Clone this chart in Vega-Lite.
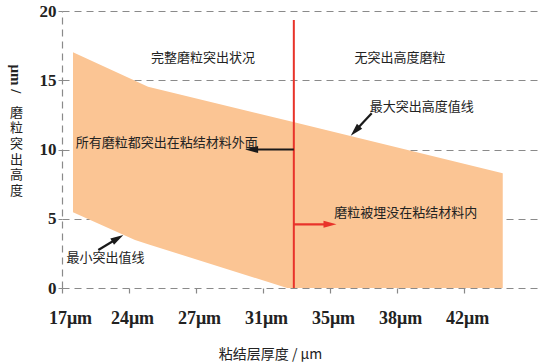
{
  "$schema": "https://vega.github.io/schema/vega-lite/v6.json",
  "width": 478,
  "height": 277,
  "autosize": {"type": "none"},
  "padding": {"left": 62, "top": 11, "right": 14, "bottom": 75},
  "background": "white",
  "config": {"view": {"stroke": null}, "font": "Noto Sans CJK SC"},
  "datasets": {
    "band": [
      {"pos": 0.164, "upper": 17.02, "lower": 5.47},
      {"pos": 1.09, "upper": 14.97, "lower": 3.47},
      {"pos": 1.284, "upper": 14.53, "lower": 3.16},
      {"pos": 3.36, "upper": 12.09, "lower": 0},
      {"pos": 6.578, "upper": 8.28, "lower": 0}
    ],
    "divider": [{"pos": 3.46, "y": 0, "y2": 19.35}],
    "arrows": [
      {"kind": "black", "x": 3.46, "y": 10.0, "x2": 2.83, "y2": 10.0},
      {"kind": "red", "x": 3.46, "y": 4.6, "x2": 4.0, "y2": 4.6},
      {"kind": "black", "x": 4.622, "y": 12.61, "x2": 4.375, "y2": 11.34},
      {"kind": "black", "x": 0.542, "y": 2.74, "x2": 0.832, "y2": 3.59}
    ],
    "notes": [
      {"x": 2.104, "y": 16.63, "label": "完整磨粒突出状况"},
      {"x": 5.045, "y": 16.63, "label": "无突出高度磨粒"},
      {"x": 5.369, "y": 13.09, "label": "最大突出高度值线"},
      {"x": 1.563, "y": 10.45, "label": "所有磨粒都突出在粘结材料外面"},
      {"x": 5.13, "y": 5.39, "label": "磨粒被埋没在粘结材料内"},
      {"x": 0.65, "y": 2.19, "label": "最小突出值线"}
    ],
    "unit": [{"x": -0.687, "y": 15.1, "label": "μm /"}]
  },
  "layer": [
    {
      "data": {"name": "band"},
      "mark": {"type": "area", "color": "#FBC594", "opacity": 1},
      "encoding": {
        "x": {
          "field": "pos", "type": "quantitative",
          "scale": {"domain": [0, 7.134], "nice": false, "zero": false},
          "axis": {
            "values": [0, 1, 2, 3, 4, 5, 6],
            "labelExpr": "['17μm','24μm','27μm','31μm','35μm','38μm','42μm'][datum.value]",
            "grid": false, "domain": false,
            "tickSize": 5, "tickColor": "#888888", "tickWidth": 1.2,
            "labelFont": "Liberation Serif", "labelFontWeight": "bold", "labelFontSize": 18,
            "labelColor": "#222222", "labelPadding": 16,
            "labelFlush": false, "labelOverlap": false, "labelBound": false,
            "labelOffset": {"condition": {"test": "datum.value === 0", "value": 8}, "value": 3},
            "title": "粘结层厚度 / μm",
            "titleFont": "Noto Sans CJK SC", "titleFontSize": 14, "titleFontWeight": "normal",
            "titleColor": "#222222", "titleX": 208, "titleY": 66,
            "titleBaseline": "middle", "titleAlign": "center"
          }
        },
        "y": {
          "field": "upper", "type": "quantitative",
          "scale": {"domain": [0, 20], "nice": false},
          "axis": {
            "values": [0, 5, 10, 15, 20],
            "grid": true, "gridDash": [7, 5], "gridColor": "#8a8a8a", "gridWidth": 1.2,
            "domainDash": [7, 5], "domainColor": "#8a8a8a", "domainWidth": 1.2,
            "tickSize": 4, "tickColor": "#8a8a8a",
            "labelFont": "Liberation Serif", "labelFontWeight": "bold", "labelFontSize": 17,
            "labelColor": "#222222", "labelPadding": 2,
            "title": ["磨", "粒", "突", "出", "高", "度"],
            "titleAngle": 0, "titleX": -46, "titleY": 101,
            "titleBaseline": "middle", "titleAlign": "center",
            "titleFont": "Noto Sans CJK SC", "titleFontSize": 13, "titleFontWeight": "normal",
            "titleLineHeight": 15.7, "titleColor": "#222222"
          }
        },
        "y2": {"field": "lower"}
      }
    },
    {
      "data": {"name": "divider"},
      "mark": {"type": "rule", "color": "#E8332A", "strokeWidth": 2},
      "encoding": {
        "x": {"field": "pos", "type": "quantitative"},
        "y": {"field": "y", "type": "quantitative"},
        "y2": {"field": "y2"}
      }
    },
    {
      "data": {"name": "arrows"},
      "mark": {"type": "rule", "strokeWidth": 2.2},
      "encoding": {
        "x": {"field": "x", "type": "quantitative"},
        "y": {"field": "y", "type": "quantitative"},
        "x2": {"field": "x2"},
        "y2": {"field": "y2"},
        "color": {"field": "kind", "type": "nominal", "scale": {"domain": ["black", "red"], "range": ["#1a1a1a", "#E8332A"]}, "legend": null}
      }
    },
    {
      "data": {"values": [{"x": 2.83, "y": 10.0}]},
      "mark": {"type": "point", "shape": "M1,0L-1,-0.55L-1,0.55Z", "size": 169, "angle": 180, "filled": true, "color": "#1a1a1a", "opacity": 1},
      "encoding": {"x": {"field": "x", "type": "quantitative"}, "y": {"field": "y", "type": "quantitative"}}
    },
    {
      "data": {"values": [{"x": 4.0, "y": 4.6}]},
      "mark": {"type": "point", "shape": "M1,0L-1,-0.55L-1,0.55Z", "size": 169, "angle": 0, "filled": true, "color": "#E8332A", "opacity": 1},
      "encoding": {"x": {"field": "x", "type": "quantitative"}, "y": {"field": "y", "type": "quantitative"}}
    },
    {
      "data": {"values": [{"x": 4.375, "y": 11.34}]},
      "mark": {"type": "point", "shape": "M1,0L-1,-0.55L-1,0.55Z", "size": 169, "angle": 133, "filled": true, "color": "#1a1a1a", "opacity": 1},
      "encoding": {"x": {"field": "x", "type": "quantitative"}, "y": {"field": "y", "type": "quantitative"}}
    },
    {
      "data": {"values": [{"x": 0.832, "y": 3.59}]},
      "mark": {"type": "point", "shape": "M1,0L-1,-0.55L-1,0.55Z", "size": 169, "angle": 329, "filled": true, "color": "#1a1a1a", "opacity": 1},
      "encoding": {"x": {"field": "x", "type": "quantitative"}, "y": {"field": "y", "type": "quantitative"}}
    },
    {
      "data": {"name": "notes"},
      "mark": {"type": "text", "font": "Noto Sans CJK SC", "fontSize": 13, "color": "#222222", "align": "center", "baseline": "middle"},
      "encoding": {
        "x": {"field": "x", "type": "quantitative"},
        "y": {"field": "y", "type": "quantitative"},
        "text": {"field": "label"}
      }
    },
    {
      "data": {"name": "unit"},
      "mark": {"type": "text", "font": "Liberation Serif", "fontWeight": "bold", "fontSize": 15, "color": "#222222", "align": "center", "baseline": "middle", "angle": 90},
      "encoding": {
        "x": {"field": "x", "type": "quantitative"},
        "y": {"field": "y", "type": "quantitative"},
        "text": {"field": "label"}
      }
    }
  ]
}
